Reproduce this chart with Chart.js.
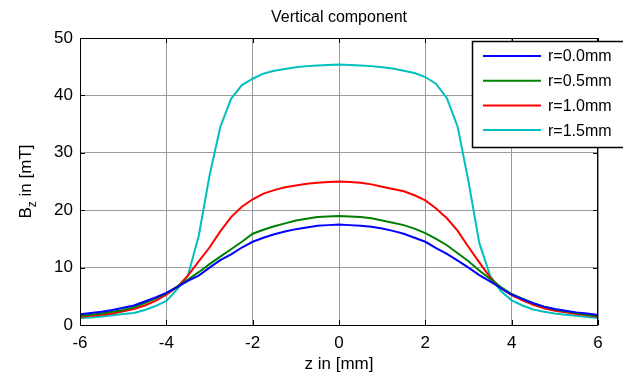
<!DOCTYPE html>
<html>
<head>
<meta charset="utf-8">
<script src="https://cdn.jsdelivr.net/npm/chart.js@4/dist/chart.umd.min.js"></script>
<style>
  html, body { margin: 0; padding: 0; background: #fff; }
  #wrap { width: 623px; height: 381px; position: relative; }
</style>
</head>
<body>
<div id="wrap"><canvas id="c" width="623" height="381"></canvas></div>
<script>
// z positions in mm
const zValues = [-6,-5.75,-5.5,-5.25,-5,-4.75,-4.5,-4.25,-4,-3.75,-3.5,-3.25,-3,-2.75,-2.5,-2.25,-2,-1.75,-1.5,-1.25,-1,-0.75,-0.5,-0.25,0,0.25,0.5,0.75,1,1.25,1.5,1.75,2,2.25,2.5,2.75,3,3.25,3.5,3.75,4,4.25,4.5,4.75,5,5.25,5.5,5.75,6];

// B_z in mT for each radius
const r00 = [1.85,2.1,2.3,2.6,3.0,3.4,4.1,4.8,5.6,6.6,7.7,8.6,10.0,11.3,12.3,13.5,14.5,15.2,15.8,16.3,16.7,17.0,17.3,17.4,17.5,17.4,17.3,17.1,16.8,16.4,15.9,15.2,14.5,13.4,12.4,11.2,10.0,8.7,7.6,6.4,5.3,4.5,3.8,3.2,2.8,2.5,2.2,2.0,1.75];
const r05 = [1.6,1.8,2.0,2.3,2.6,3.1,3.8,4.6,5.5,6.7,7.9,9.2,10.6,11.9,13.2,14.5,15.9,16.6,17.2,17.7,18.2,18.5,18.8,18.9,19.0,18.9,18.8,18.6,18.2,17.8,17.4,16.8,16.0,15.0,13.9,12.5,11.1,9.5,8.0,6.6,5.4,4.6,3.8,3.2,2.7,2.4,2.1,1.8,1.55];
const r10 = [1.45,1.6,1.8,2.0,2.4,2.8,3.4,4.2,5.3,6.6,8.6,11.1,13.5,16.3,18.8,20.6,21.9,22.9,23.5,24.0,24.3,24.6,24.8,24.9,25.0,24.9,24.8,24.5,24.1,23.7,23.3,22.6,21.7,20.3,18.6,16.4,13.6,10.9,8.3,6.4,5.2,4.3,3.5,2.9,2.5,2.2,1.9,1.7,1.45];
const r15 = [1.2,1.3,1.5,1.7,1.9,2.1,2.6,3.3,4.2,6.2,8.6,15.5,26.0,34.5,39.4,41.8,42.9,43.8,44.3,44.6,44.9,45.1,45.2,45.3,45.4,45.3,45.2,45.1,44.9,44.7,44.3,43.9,43.2,42.0,39.5,34.5,25.0,14.3,8.6,5.9,4.3,3.4,2.7,2.3,2.0,1.8,1.6,1.4,1.2];

const seriesLabels = ['r=0.0mm','r=0.5mm','r=1.0mm','r=1.5mm'];
const seriesColors = ['#0000ff','#008000','#ff0000','#00bfbf'];
const xTicks = [-6,-4,-2,0,2,4,6];
const yTicks = [0,10,20,30,40,50];
const chartTitle = 'Vertical component';
const xTitle = 'z in [mm]';

const FONT = '"Liberation Sans", Arial, Helvetica, sans-serif';

const seriesValues = [r00, r05, r10, r15];
const datasets = seriesValues.map((vals, i) => ({
  label: seriesLabels[i],
  data: zValues.map((z, k) => ({ x: z, y: vals[k] })),
  borderColor: seriesColors[i],
  backgroundColor: seriesColors[i],
  borderWidth: 2,
  pointRadius: 0,
  tension: 0,
  fill: false
}));

const decor = {
  id: 'decor',
  afterDatasetsDraw(chart) {
    const ctx = chart.ctx;
    const a = chart.chartArea;
    const xs = chart.scales.x, ys = chart.scales.y;
    ctx.save();
    // axes box
    ctx.strokeStyle = '#000';
    ctx.lineWidth = 1;
    ctx.strokeRect(a.left + 0.5, a.top + 0.5, a.right - a.left - 1, a.bottom - a.top);
    // inward ticks
    const tl = 5;
    ctx.beginPath();
    xTicks.forEach(t => {
      const px = Math.round(xs.getPixelForValue(t)) + 0.5;
      ctx.moveTo(px, a.bottom); ctx.lineTo(px, a.bottom - tl);
      ctx.moveTo(px, a.top); ctx.lineTo(px, a.top + tl);
    });
    yTicks.forEach(t => {
      const py = Math.round(ys.getPixelForValue(t)) + 0.5;
      ctx.moveTo(a.left, py); ctx.lineTo(a.left + tl, py);
      ctx.moveTo(a.right, py); ctx.lineTo(a.right - tl, py);
    });
    ctx.stroke();

    // title
    ctx.fillStyle = '#000';
    ctx.font = '16px ' + FONT;
    ctx.textAlign = 'center';
    ctx.textBaseline = 'middle';
    ctx.fillText(chartTitle, (a.left + a.right) / 2, 18);

    // x axis title
    ctx.font = '17px ' + FONT;
    ctx.fillText(xTitle, (a.left + a.right) / 2, 364);

    // y axis title with subscript
    ctx.save();
    ctx.translate(31, (a.top + a.bottom) / 2);
    ctx.rotate(-Math.PI / 2);
    ctx.textAlign = 'left';
    ctx.textBaseline = 'alphabetic';
    const big = '17px ' + FONT, small = '12px ' + FONT;
    ctx.font = big; const wB = ctx.measureText('B').width;
    ctx.font = small; const wz = ctx.measureText('z').width;
    ctx.font = big; const wr = ctx.measureText(' in [mT]').width;
    let x0 = -(wB + wz + wr) / 2;
    ctx.font = big; ctx.fillText('B', x0, 0);
    ctx.font = small; ctx.fillText('z', x0 + wB, 5);
    ctx.font = big; ctx.fillText(' in [mT]', x0 + wB + wz, 0);
    ctx.restore();

    // legend
    const lx = 472.5, ly = 41.5, lw = 200, lh = 106;
    ctx.fillStyle = '#fff';
    ctx.fillRect(lx, ly, lw, lh);
    ctx.strokeStyle = '#000';
    ctx.lineWidth = 1.5;
    ctx.strokeRect(lx, ly, lw, lh);
    ctx.font = '16px ' + FONT;
    ctx.textAlign = 'left';
    ctx.textBaseline = 'middle';
    chart.data.datasets.forEach((ds, i) => {
      const ry = 56 + i * 24.7;
      ctx.strokeStyle = ds.borderColor;
      ctx.lineWidth = 2;
      ctx.beginPath();
      ctx.moveTo(483, ry); ctx.lineTo(541, ry);
      ctx.stroke();
      ctx.fillStyle = '#000';
      ctx.fillText(ds.label, 548, ry + 1);
    });
    ctx.restore();
  }
};

new Chart(document.getElementById('c'), {
  type: 'line',
  data: { datasets },
  options: {
    responsive: false,
    animation: false,
    layout: { padding: { left: 0, top: 38, right: 25, bottom: 0 } },
    plugins: { legend: { display: false }, title: { display: false }, tooltip: { enabled: false } },
    scales: {
      x: {
        type: 'linear', min: -6, max: 6,
        afterBuildTicks: s => { s.ticks = xTicks.map(v => ({ value: v })); },
        afterFit: s => { s.height = 381 - 325; },
        ticks: { color: '#000', font: { size: 17, family: FONT }, padding: 8, maxRotation: 0 },
        grid: { color: '#9a9a9a', lineWidth: 1, drawTicks: false },
        border: { display: false }
      },
      y: {
        type: 'linear', min: 0, max: 50,
        afterBuildTicks: s => { s.ticks = yTicks.map(v => ({ value: v })); },
        afterFit: s => { s.width = 80; },
        ticks: { color: '#000', font: { size: 17, family: FONT }, padding: 7 },
        grid: { color: '#9a9a9a', lineWidth: 1, drawTicks: false },
        border: { display: false }
      }
    }
  },
  plugins: [decor]
});
</script>
</body>
</html>
